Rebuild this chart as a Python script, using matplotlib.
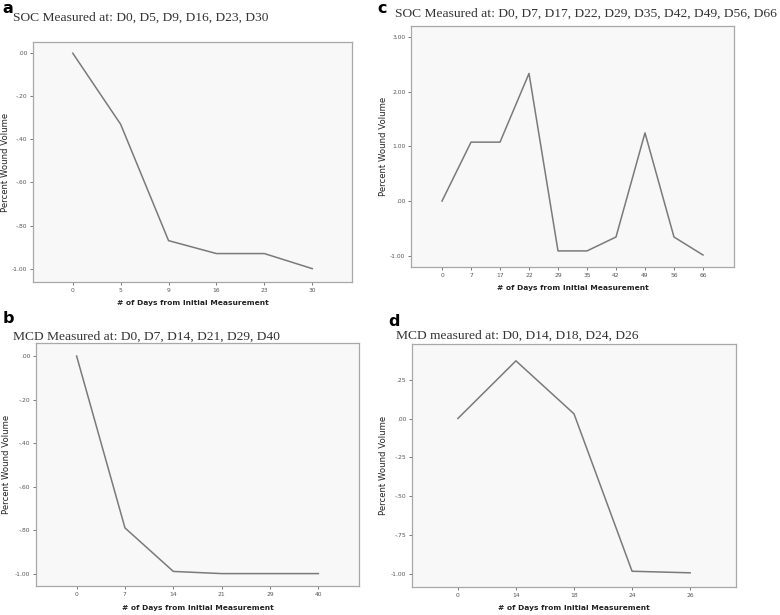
import numpy as np
import matplotlib
matplotlib.use("Agg")
import matplotlib.pyplot as plt

days_a = ["0", "5", "9", "16", "23", "30"]
vol_a = [0.00, -0.33, -0.87, -0.93, -0.93, -1.00]

days_c = ["0", "7", "17", "22", "29", "35", "42", "49", "56", "66"]
vol_c = [0.00, 1.08, 1.08, 2.34, -0.915, -0.915, -0.66, 1.25, -0.66, -0.99]

days_b = ["0", "7", "14", "21", "29", "40"]
vol_b = [0.00, -0.79, -0.99, -1.00, -1.00, -1.00]

days_d = ["0", "14", "18", "24", "26"]
vol_d = [0.00, 0.37, 0.03, -0.98, -0.99]

W, H = 780, 615
fig = plt.figure(figsize=(W / 100, H / 100), dpi=100)


def fmt(v):
    s = f"{v:.2f}"
    if s.startswith("0."):
        s = s[1:]
    elif s.startswith("-0."):
        s = "-" + s[2:]
    return s


def panel(box, days, vals, yticks, ylim, pad, title, title_xy, letter, letter_xy, ylab_x, xlab_y):
    l, r, t, b = box
    ax = fig.add_axes([l / W, 1 - b / H, (r - l) / W, (b - t) / H])
    ax.set_facecolor("#f8f8f8")
    x = np.arange(len(days))
    ax.plot(x, vals, color="#7a7a7a", lw=1.1)
    ax.set_xlim(-pad, len(days) - 1 + pad)
    ax.set_ylim(*ylim)
    ax.set_xticks(x)
    ax.set_xticklabels(days)
    ax.set_yticks(yticks)
    ax.set_yticklabels([fmt(v) for v in yticks])
    ax.tick_params(labelsize=4.3, labelcolor="#555555", color="#777777", length=2.5, width=0.7, pad=1.5)
    for s in ax.spines.values():
        s.set_color("#a8a8a8")
        s.set_linewidth(0.9)
    fig.text(title_xy[0] / W, 1 - title_xy[1] / H, title, family="Liberation Serif",
             fontsize=9.7, color="#333333", va="baseline")
    fig.text(letter_xy[0] / W, 1 - letter_xy[1] / H, letter, fontsize=11.5, weight="bold",
             va="baseline")
    fig.text(ylab_x / W, 1 - (t + b) / 2 / H, "Percent Wound Volume", rotation=90,
             fontsize=6.1, color="#222222", ha="center", va="center")
    fig.text((l + r) / 2 / W, 1 - xlab_y / H, "# of Days from Initial Measurement",
             fontsize=5.4, weight="bold", color="#222222", ha="center", va="center")
    return ax


panel((33, 352, 42, 282), days_a, vol_a, [0, -0.2, -0.4, -0.6, -0.8, -1.0], (-1.062, 0.052), 0.83,
      "SOC Measured at: D0, D5, D9, D16, D23, D30", (13, 21), "a", (2, 13), 6, 303)
panel((411, 734, 26, 267), days_c, vol_c, [3, 2, 1, 0, -1], (-1.21, 3.21), 1.07,
      "SOC Measured at: D0, D7, D17, D22, D29, D35, D42, D49, D56, D66", (395, 17), "c", (377, 13), 384, 288)
panel((36, 359, 343, 586), days_b, vol_b, [0, -0.2, -0.4, -0.6, -0.8, -1.0], (-1.057, 0.06), 0.84,
      "MCD Measured at: D0, D7, D14, D21, D29, D40", (13, 340), "b", (3, 323), 7, 608)
panel((412, 736, 344, 587), days_d, vol_d, [0.25, 0, -0.25, -0.5, -0.75, -1.0], (-1.081, 0.478), 0.79,
      "MCD measured at: D0, D14, D18, D24, D26", (396, 339), "d", (388, 326), 384, 608)

fig.savefig("out.png", dpi=100, facecolor="white")
